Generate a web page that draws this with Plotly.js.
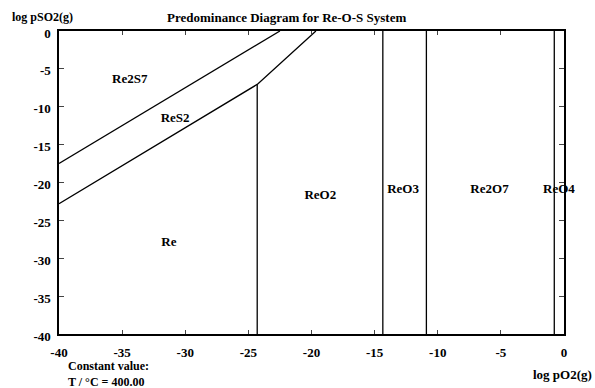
<!DOCTYPE html>
<html>
<head>
<meta charset="utf-8">
<script src="https://cdn.plot.ly/plotly-3.0.1.min.js"></script>
<style>html,body{margin:0;padding:0;background:#fff;}#chart{width:595px;height:388px;}</style>
</head>
<body>
<div id="chart"></div>
<script>
// Boundary lines (log pO2, log pSO2)
const re2s7_res2_x = [-40, -22.5];
const re2s7_res2_y = [-17.5, 0];
const res2_re_x = [-40, -24.3, -19.65];
const res2_re_y = [-22.8, -7.05, 0];
const re_reo2_x = [-24.3, -24.3];
const re_reo2_y = [-7.05, -40];
const reo2_reo3_x = [-14.35, -14.35];
const reo3_re2o7_x = [-10.9, -10.9];
const re2o7_reo4_x = [-0.77, -0.77];
const fullY = [0, -40];

// Field labels
const fieldNames = ["Re2S7", "ReS2", "ReO2", "ReO3", "Re2O7", "ReO4", "Re"];
const fieldX = [-34.4, -30.8, -19.3, -12.75, -5.9, -0.4, -31.3];
const fieldY = [-6.5, -11.6, -21.7, -21.0, -20.9, -20.9, -27.9];

const xTicks = [-40, -35, -30, -25, -20, -15, -10, -5, 0];
const yTicks = [0, -5, -10, -15, -20, -25, -30, -35, -40];

const FONT = "'Liberation Serif', 'Times New Roman', serif";
const FS = 13;
const lineStyle = {color: "black", width: 1.3};

function seg(x, y) {
  return {x: x, y: y, mode: "lines", line: lineStyle, hoverinfo: "skip", showlegend: false};
}

const traces = [
  seg(re2s7_res2_x, re2s7_res2_y),
  seg(res2_re_x, res2_re_y),
  seg(re_reo2_x, re_reo2_y),
  seg(reo2_reo3_x, fullY),
  seg(reo3_re2o7_x, fullY),
  seg(re2o7_reo4_x, fullY),
  {x: fieldX, y: fieldY, text: fieldNames, mode: "text", textposition: "middle center", cliponaxis: false,
   textfont: {family: FONT, size: FS, color: "black", weight: "bold"}, hoverinfo: "skip", showlegend: false}
];

const tf = {family: FONT, size: FS, color: "black", weight: "bold"};
const sf = {family: FONT, size: 12, color: "black", weight: "bold"};

const layout = {
  width: 595, height: 388,
  margin: {l: 59, r: 31, t: 31, b: 54},
  paper_bgcolor: "white", plot_bgcolor: "white",
  font: tf,
  showlegend: false,
  xaxis: {
    range: [-40, 0], tickvals: xTicks, ticktext: xTicks.map(String),
    showgrid: false, zeroline: false, showline: true, linecolor: "black", linewidth: 1.6,
    mirror: "ticks", ticks: "inside", ticklen: 4, tickwidth: 1, tickcolor: "#444",
    tickfont: tf, ticklabelstandoff: 6,
    fixedrange: true
  },
  yaxis: {
    range: [-40, 0], tickvals: yTicks, ticktext: yTicks.map(String),
    showgrid: false, zeroline: false, showline: true, linecolor: "black", linewidth: 1.6,
    mirror: "ticks", ticks: "inside", ticklen: 5, tickwidth: 1, tickcolor: "#444",
    tickfont: tf, ticklabelstandoff: 4, ticklabelshift: 2,
    fixedrange: true
  },
  annotations: [
    {text: "Predominance Diagram for Re-O-S System", xref: "paper", yref: "paper", x: 0.45, y: 1, yshift: 14,
     xanchor: "center", yanchor: "middle", showarrow: false, font: tf},
    {text: "log pSO2(g)", xref: "paper", yref: "paper", x: 0, xshift: -49, y: 1, yshift: 14,
     xanchor: "left", yanchor: "middle", showarrow: false, font: sf},
    {text: "log pO2(g)", xref: "paper", yref: "paper", x: 1, xshift: 30, y: 0, yshift: -40,
     xanchor: "right", yanchor: "middle", showarrow: false, font: tf},
    {text: "Constant value:<br>T / °C = 400.00", xref: "paper", yref: "paper", x: 0, xshift: 7, y: 0, yshift: -39.5,
     xanchor: "left", yanchor: "middle", align: "left", showarrow: false, font: sf}
  ]
};

Plotly.newPlot("chart", traces, layout, {displayModeBar: false, staticPlot: true});
</script>
</body>
</html>
